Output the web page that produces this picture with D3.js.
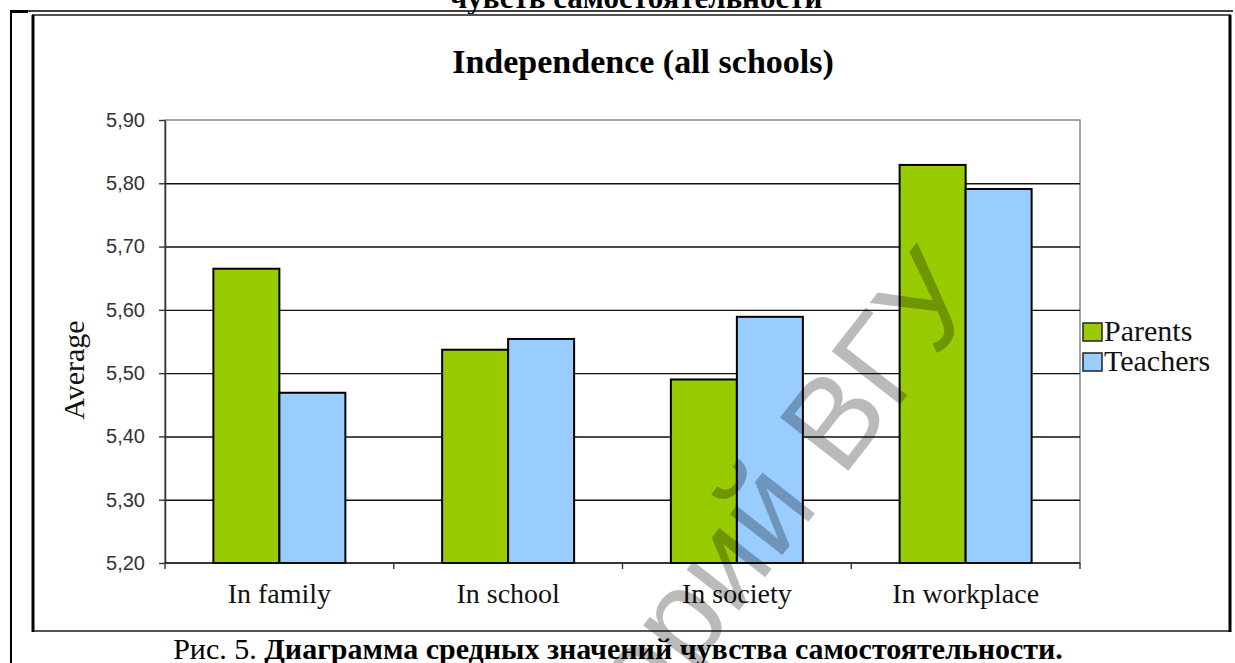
<!DOCTYPE html>
<html>
<head>
<meta charset="utf-8">
<script src="https://cdn.jsdelivr.net/npm/d3@7"></script>
<style>
  body { margin: 0; background: #fff; }
  svg { display: block; }
</style>
</head>
<body>
<div id="chart-area"></div>
<script>
// data
const categories = ["In family", "In school", "In society", "In workplace"]
const seriesNames = ["Parents", "Teachers"]
const parents = [5.665, 5.537, 5.49, 5.829]
const teachers = [5.469, 5.554, 5.589, 5.791]
const yTicks = [5.2, 5.3, 5.4, 5.5, 5.6, 5.7, 5.8, 5.9]
const yTickLabels = ["5,20", "5,30", "5,40", "5,50", "5,60", "5,70", "5,80", "5,90"]
const colors = ["#99cc00", "#99ccff"]

const W = 1235, H = 663
const PLOT = {LEFT: 165, RIGHT: 1080, TOP: 120, BOTTOM: 563}
const SERIF = "'Liberation Serif', 'Times New Roman', serif"

const svg = d3.select("#chart-area").append("svg")
  .attr("width", W)
  .attr("height", H)

// page table lines
svg.append("line").attr("x1", 10).attr("x2", 1233).attr("y1", 11).attr("y2", 11)
  .attr("stroke", "#000").attr("stroke-width", 1.5)
svg.append("line").attr("x1", 11).attr("x2", 11).attr("y1", 10).attr("y2", H)
  .attr("stroke", "#000").attr("stroke-width", 2)
svg.append("line").attr("x1", 10).attr("x2", 28).attr("y1", 11.5).attr("y2", 11.5)
  .attr("stroke", "#000").attr("stroke-width", 3)

// cut off caption line at the very top
svg.append("text")
  .attr("x", 636).attr("y", 8)
  .attr("text-anchor", "middle")
  .attr("font-family", SERIF)
  .attr("font-weight", "bold")
  .attr("font-size", "31px")
  .text("чувств самостоятельности")

// chart area frame
svg.append("rect")
  .attr("x", 33).attr("y", 15).attr("width", 1197).attr("height", 616)
  .attr("fill", "#fff").attr("stroke", "#555").attr("stroke-width", 2)
svg.append("line").attr("x1", 33).attr("x2", 33).attr("y1", 15).attr("y2", 632)
  .attr("stroke", "#000").attr("stroke-width", 3)
svg.append("line").attr("x1", 1230).attr("x2", 1230).attr("y1", 15).attr("y2", 632)
  .attr("stroke", "#000").attr("stroke-width", 3)

// title
svg.append("text")
  .attr("x", 643).attr("y", 73)
  .attr("text-anchor", "middle")
  .attr("font-family", SERIF)
  .attr("font-weight", "bold")
  .attr("font-size", "34px")
  .text("Independence (all schools)")

// scales
const x0 = d3.scaleBand()
  .domain(categories)
  .range([PLOT.LEFT, PLOT.RIGHT])
  .padding(0)

const x1 = d3.scaleBand()
  .domain(seriesNames)
  .range([0, x0.bandwidth()])
  .paddingInner(0)
  .paddingOuter(0.733)

const y = d3.scaleLinear()
  .domain([5.2, 5.9])
  .range([PLOT.BOTTOM, PLOT.TOP])

const color = d3.scaleOrdinal().domain(seriesNames).range(colors)

// plot area border (top / right)
svg.append("rect")
  .attr("x", PLOT.LEFT).attr("y", PLOT.TOP)
  .attr("width", PLOT.RIGHT - PLOT.LEFT).attr("height", PLOT.BOTTOM - PLOT.TOP)
  .attr("fill", "none").attr("stroke", "#888").attr("stroke-width", 1.5)

// gridlines
const grid = svg.append("g")
  .attr("transform", `translate(${PLOT.LEFT}, 0)`)
  .call(d3.axisLeft(y).tickValues(yTicks.slice(1, -1))
    .tickSize(-(PLOT.RIGHT - PLOT.LEFT)).tickFormat(""))
grid.select(".domain").remove()
grid.selectAll("line").attr("stroke", "#111").attr("stroke-width", 1.4)

// y axis
const yAxis = svg.append("g")
  .attr("transform", `translate(${PLOT.LEFT}, 0)`)
  .call(d3.axisLeft(y).tickValues(yTicks)
    .tickFormat((d, i) => yTickLabels[i]).tickSize(6).tickPadding(14).tickSizeOuter(0))
yAxis.select(".domain").attr("stroke", "#333").attr("stroke-width", 1.5)
yAxis.selectAll("line").attr("stroke", "#333").attr("stroke-width", 1.4)
yAxis.selectAll("text")
  .attr("font-family", "'Liberation Sans', Arial, sans-serif")
  .attr("font-size", "20px")
  .attr("fill", "#333")

// y label
svg.append("text")
  .attr("transform", "translate(84, 370) rotate(-90)")
  .attr("text-anchor", "middle")
  .attr("font-family", SERIF)
  .attr("font-size", "30px")
  .attr("fill", "#111")
  .text("Average")

// bars
const groups = svg.append("g").selectAll("g")
  .data(categories)
  .enter().append("g")
  .attr("transform", d => `translate(${x0(d)}, 0)`)

groups.selectAll("rect")
  .data((d, i) => [
    {name: "Parents", value: parents[i]},
    {name: "Teachers", value: teachers[i]}
  ])
  .enter().append("rect")
  .attr("x", d => x1(d.name))
  .attr("width", x1.bandwidth())
  .attr("y", d => y(d.value))
  .attr("height", d => y(5.2) - y(d.value))
  .attr("fill", d => color(d.name))
  .attr("stroke", "#000")
  .attr("stroke-width", 2)

// x axis
svg.append("line")
  .attr("x1", PLOT.LEFT).attr("x2", PLOT.RIGHT)
  .attr("y1", y(5.2)).attr("y2", y(5.2))
  .attr("stroke", "#111").attr("stroke-width", 1.6)

const xTicks = categories.map(c => x0(c)).concat([x0.range()[1]])
svg.append("g").selectAll("line")
  .data(xTicks)
  .enter().append("line")
  .attr("x1", d => d).attr("x2", d => d)
  .attr("y1", y(5.2)).attr("y2", y(5.2) + 6)
  .attr("stroke", "#333").attr("stroke-width", 1.4)

svg.append("g").selectAll("text")
  .data(categories)
  .enter().append("text")
  .attr("x", d => x0(d) + x0.bandwidth() / 2)
  .attr("y", 603)
  .attr("text-anchor", "middle")
  .attr("font-family", SERIF)
  .attr("font-size", "28px")
  .attr("fill", "#111")
  .text(d => d)

// legend
const legend = svg.append("g")
  .attr("transform", "translate(1083, 323)")

seriesNames.forEach((name, i) => {
  const row = legend.append("g")
    .attr("transform", `translate(0, ${i * 30})`)
  row.append("rect")
    .attr("width", 19).attr("height", 18)
    .attr("fill", color(name))
    .attr("stroke", "#222").attr("stroke-width", 1.5)
  row.append("text")
    .attr("x", 21).attr("y", 18)
    .attr("font-family", SERIF)
    .attr("font-size", "30px")
    .attr("fill", "#111")
    .text(name)
})

// watermark
svg.append("text")
  .attr("transform", "translate(985, 296) rotate(-52)")
  .attr("text-anchor", "end")
  .attr("font-family", "'Liberation Sans', Arial, sans-serif")
  .attr("font-size", "126px")
  .attr("fill", "#000")
  .attr("fill-opacity", 0.27)
  .text("Репозиторий ВГУ")

// caption
const cap = svg.append("text")
  .attr("x", 618).attr("y", 659)
  .attr("text-anchor", "middle")
  .attr("font-family", SERIF)
  .attr("font-size", "30px")
cap.append("tspan").text("Рис. 5. ")
cap.append("tspan").attr("font-weight", "bold").text("Диаграмма средных значений чувства самостоятельности.")
</script>
</body>
</html>
